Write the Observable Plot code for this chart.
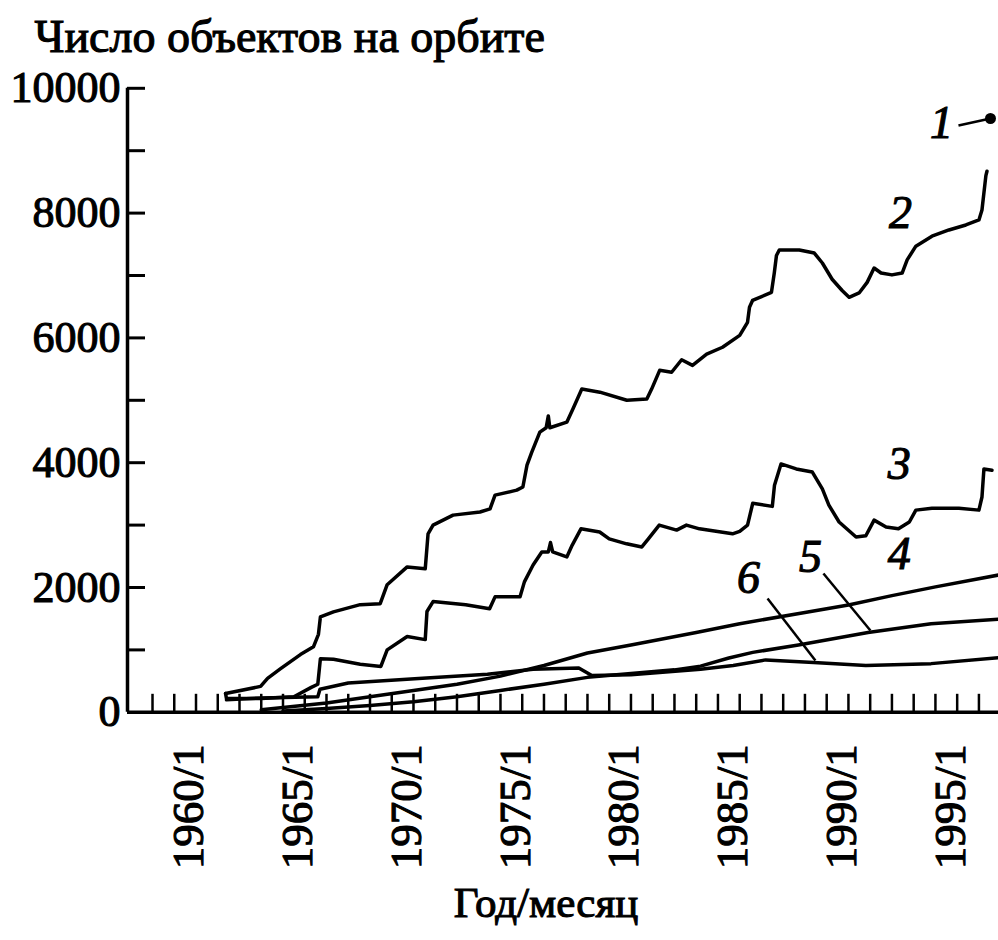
<!DOCTYPE html>
<html>
<head>
<meta charset="utf-8">
<script src="https://cdn.jsdelivr.net/npm/d3@7"></script>
<script src="https://cdn.jsdelivr.net/npm/@observablehq/plot@0.6"></script>
<style>
  html, body { margin: 0; padding: 0; background: #fff; overflow: hidden; }
  #chart { width: 998px; height: 940px; }
  #chart svg text { stroke: #000; stroke-width: 1.1px; paint-order: stroke; }
</style>
</head>
<body>
<div id="chart"></div>
<script>
// ---- Text ----
const titleText = "Число объектов на орбите";
const xAxisTitle = "Год/месяц";

// ---- Tick definitions ----
const yLabelTicks = [0, 2000, 4000, 6000, 8000, 10000];
const yMarkTicks = [1000, 2000, 3000, 4000, 5000, 6000, 7000, 8000, 9000, 10000];
const xLabelYears = [1960, 1965, 1970, 1975, 1980, 1985, 1990, 1995];
const xTickYears = d3.range(1958, 1997);

// ---- Series 1 (single point) ----
const s1Year = [1996.53];
const s1Value = [9516];

// ---- Series 2 ----
const s2Years = [1961.36, 1962.97, 1963.29, 1963.89, 1964.80, 1965.40, 1965.63, 1965.72, 1966.32, 1967.55,
  1968.47, 1968.79, 1969.71, 1970.54, 1970.67, 1970.90, 1971.82, 1973.06, 1973.52, 1973.75,
  1974.75, 1975.03, 1975.22, 1975.44, 1975.81, 1976.10, 1976.20, 1976.27, 1977.05, 1977.33,
  1977.74, 1978.57, 1979.81, 1980.73, 1980.95, 1981.32, 1981.87, 1982.33, 1982.83, 1983.48,
  1984.21, 1985.00, 1985.36, 1985.45, 1985.59, 1986.46, 1986.59, 1986.69, 1986.82, 1987.28,
  1987.74, 1988.43, 1988.80, 1989.25, 1989.71, 1990.03, 1990.49, 1990.86, 1991.18, 1991.50,
  1992.00, 1992.47, 1992.70, 1993.10, 1993.84, 1994.62, 1995.40, 1996.00, 1996.14, 1996.32, 1996.37];
const s2Values = [300, 415, 545, 700, 925, 1050, 1250, 1530, 1610, 1725,
  1740, 2045, 2330, 2300, 2860, 3000, 3160, 3210, 3260, 3480,
  3560, 3610, 3960, 4170, 4490, 4560, 4750, 4560, 4650, 4860,
  5180, 5130, 5000, 5020, 5180, 5480, 5450, 5650, 5560, 5740,
  5850, 6040, 6250, 6490, 6600, 6730, 7040, 7320, 7410, 7410,
  7410, 7360, 7200, 6940, 6760, 6650, 6720, 6890, 7120, 7040,
  7010, 7040, 7250, 7470, 7630, 7730, 7810, 7890, 8050, 8600, 8670];

// ---- Series 3 ----
const s3Years = [1961.36, 1961.40, 1963.00, 1964.50, 1965.30, 1965.60, 1965.72, 1966.32, 1967.55, 1968.50,
  1968.79, 1969.71, 1970.54, 1970.62, 1970.90, 1972.40, 1973.50, 1973.75, 1974.90, 1975.10,
  1975.50, 1975.90, 1976.20, 1976.30, 1976.40, 1977.05, 1977.30, 1977.70, 1978.56, 1979.00,
  1979.80, 1980.50, 1980.80, 1981.30, 1982.10, 1982.55, 1983.15, 1984.67, 1985.00, 1985.36,
  1985.60, 1986.50, 1986.60, 1986.90, 1987.60, 1988.34, 1988.80, 1989.10, 1989.57, 1990.35,
  1990.80, 1991.18, 1991.73, 1992.30, 1992.80, 1993.10, 1993.84, 1995.08, 1996.00, 1996.14,
  1996.23, 1996.60];
const s3Values = [300, 220, 220, 250, 400, 450, 860, 850, 770, 735,
  1000, 1215, 1165, 1615, 1775, 1725, 1660, 1850, 1850, 2090,
  2360, 2570, 2570, 2720, 2570, 2490, 2680, 2940, 2890, 2780,
  2700, 2650, 2780, 3000, 2920, 3000, 2940, 2860, 2900, 3000,
  3350, 3300, 3640, 3980, 3900, 3850, 3580, 3320, 3050, 2810,
  2830, 3080, 2970, 2940, 3050, 3240, 3270, 3270, 3240, 3450,
  3900, 3880];

// ---- Series 4 ----
const s4Years = [1963, 1966, 1968, 1970, 1972, 1974, 1976, 1978, 1980, 1983, 1985, 1988, 1990, 1992, 1994, 1996.9];
const s4Values = [40, 150, 250, 350, 450, 580, 750, 950, 1080, 1280, 1420, 1600, 1720, 1870, 2010, 2200];

// ---- Series 5 ----
const s5Years = [1964, 1966, 1968, 1970, 1972, 1974, 1976, 1978, 1980, 1982, 1983.2, 1984.5, 1985.6, 1987.7, 1990.9, 1993.8, 1996.9];
const s5Values = [20, 60, 110, 170, 250, 350, 450, 560, 620, 680, 740, 870, 960, 1080, 1280, 1420, 1490];

// ---- Series 6 ----
const s6Years = [1961.4, 1963, 1965.6, 1965.7, 1967, 1970.6, 1973.4, 1975.5, 1977.6, 1978.2, 1980, 1983.2, 1984.7, 1986.2, 1988.4, 1990.8, 1993.8, 1996.9];
const s6Values = [200, 230, 250, 370, 470, 550, 610, 690, 710, 590, 600, 690, 750, 840, 800, 750, 780, 875];

// ---- Curve labels and leader lines ----
const labelTexts = ["1", "2", "3", "4", "5", "6"];
const labelYears = [1994.28, 1992.39, 1992.34, 1992.34, 1988.25, 1985.4];
const labelValues = [9436, 7994, 3971, 2529, 2481, 2144];
const leaderFromYears = [1995.06, 1988.85, 1986.28];
const leaderFromValues = [9404, 2224, 1824];
const leaderToYears = [1996.53, 1991.01, 1988.48];
const leaderToValues = [9516, 1311, 830];

// ---- Build tables ----
const zip = (xs, ys, key) => xs.map((x, i) => ({x, y: ys[i], key}));
const seriesData = [
  ...zip(s2Years, s2Values, "2"),
  ...zip(s3Years, s3Values, "3"),
  ...zip(s4Years, s4Values, "4"),
  ...zip(s5Years, s5Values, "5"),
  ...zip(s6Years, s6Values, "6")
];
const labelData = labelTexts.map((t, i) => ({t, x: labelYears[i], y: labelValues[i]}));
const leaderData = leaderFromYears.map((x, i) => ({x1: x, y1: leaderFromValues[i], x2: leaderToYears[i], y2: leaderToValues[i]}));
const pointData = zip(s1Year, s1Value, "1");

const W = 998, H = 940;
const mL = 127, mR = 0, mT = 87.8, mB = 228.2;
const plotW = W - mL - mR, plotH = H - mT - mB;
const tickLen = 18;
const serif = "'Liberation Serif', 'Times New Roman', serif";

const chart = Plot.plot({
  width: W,
  height: H,
  marginLeft: mL,
  marginRight: mR,
  marginTop: mT,
  marginBottom: mB,
  style: {fontFamily: serif, color: "black", background: "white", overflow: "visible"},
  x: {domain: [1956.85, 1996.9], axis: null},
  y: {domain: [0, 10000], axis: null},
  marks: [
    // inward ticks
    Plot.ruleY(yMarkTicks, {y: d => d, insetRight: plotW - tickLen, stroke: "black", strokeWidth: 3}),
    Plot.ruleX(xTickYears, {x: d => d, insetTop: plotH - tickLen, stroke: "black", strokeWidth: 2.5}),
    // axis lines
    Plot.ruleX([1956.85], {stroke: "black", strokeWidth: 3.5}),
    Plot.ruleY([0], {stroke: "black", strokeWidth: 3.5}),
    // tick labels
    Plot.axisY({ticks: yLabelTicks, tickSize: 0, tickPadding: 7, fontSize: 44, label: null, tickFormat: d => String(d)}),
    Plot.axisX({ticks: xLabelYears, tickSize: 0, tickPadding: 32, tickRotate: -90, fontSize: 45, label: null, dx: -7, tickFormat: d => `${d}/1`}),
    // series
    Plot.line(seriesData, {x: "x", y: "y", z: "key", stroke: "black", strokeWidth: 3.5, strokeLinejoin: "round"}),
    Plot.dot(pointData, {x: "x", y: "y", r: 5.5, fill: "black"}),
    Plot.link(leaderData, {x1: "x1", y1: "y1", x2: "x2", y2: "y2", stroke: "black", strokeWidth: 2.5}),
    Plot.text(labelData, {x: "x", y: "y", text: "t", fontSize: 46, fontStyle: "italic", textAnchor: "middle", lineAnchor: "middle", fill: "black"}),
    // title and axis title
    Plot.text([titleText], {frameAnchor: "top-left", text: d => d, dx: -93, dy: -36, lineAnchor: "bottom", textAnchor: "start", fontSize: 46, fill: "black"}),
    Plot.text([xAxisTitle], {frameAnchor: "bottom", text: d => d, dx: -17, dy: 205, lineAnchor: "bottom", textAnchor: "middle", fontSize: 43, fill: "black"})
  ]
});
document.getElementById("chart").appendChild(chart);
</script>
</body>
</html>
